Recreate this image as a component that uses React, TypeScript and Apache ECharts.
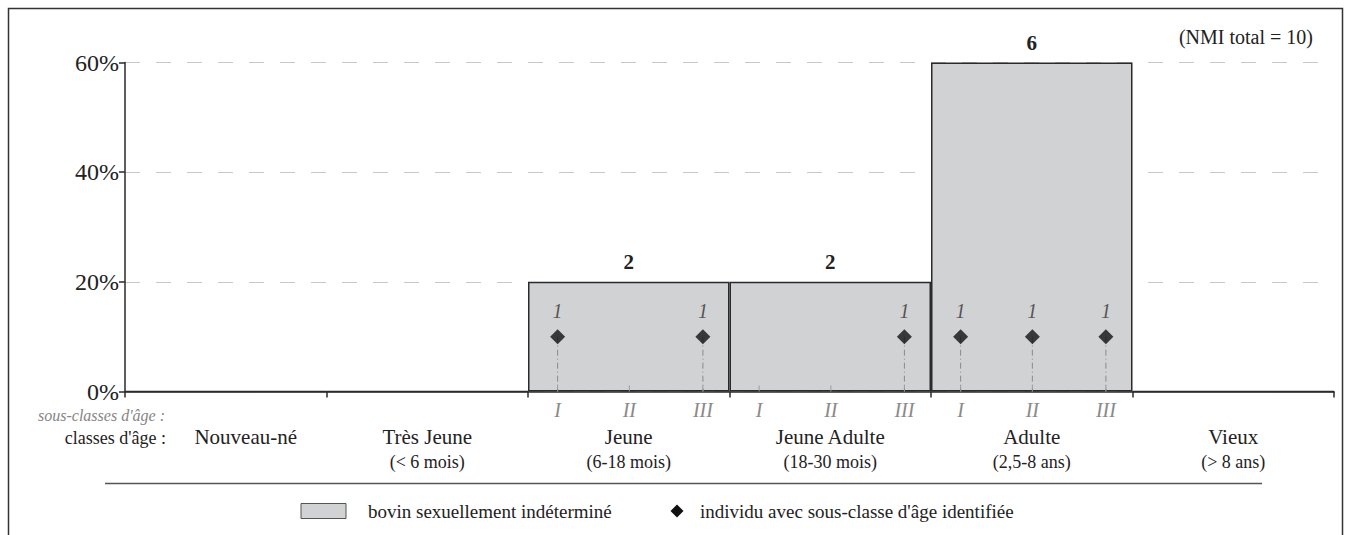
import React, { useEffect, useRef } from 'react';
import * as echarts from 'echarts';

// ---------- data ----------
const categories = ['Nouveau-né', 'Très Jeune', 'Jeune', 'Jeune Adulte', 'Adulte', 'Vieux'];
const categoryRanges = ['', '(< 6 mois)', '(6-18 mois)', '(18-30 mois)', '(2,5-8 ans)', '(> 8 ans)'];
const nmiTotal = 10;
const bovinCounts = [0, 0, 2, 2, 6, 0];
const subclassNames = ['I', 'II', 'III'];
const subclassCategories = ['Jeune', 'Jeune Adulte', 'Adulte'];
const individualCategories = ['Jeune', 'Jeune', 'Jeune Adulte', 'Adulte', 'Adulte', 'Adulte'];
const individualSubclasses = ['I', 'III', 'III', 'I', 'II', 'III'];
const individualCounts = [1, 1, 1, 1, 1, 1];
const yTicks = [0, 20, 40, 60];

// ---------- layout ----------
const SUB_POS = [0.147, 0.503, 0.868];
const FONT = 'Liberation Serif, Times New Roman, serif';
const BAR_FILL = '#d1d2d4';
const DARK = '#222';

export default function App() {
  const ref = useRef<HTMLDivElement>(null);
  useEffect(() => {
    if (!ref.current) return;
    const chart = echarts.init(ref.current, undefined, { renderer: 'svg' });

    const pct = (c: number) => (c / nmiTotal) * 100;
    const barData = bovinCounts.map((c) => ({ value: pct(c), count: c }));
    const subData = subclassCategories.flatMap((cat) =>
      subclassNames.map((_, k) => [categories.indexOf(cat) + SUB_POS[k], 0, k])
    );
    const indivData = individualCategories.map((cat, i) => [
      categories.indexOf(cat) + SUB_POS[subclassNames.indexOf(individualSubclasses[i])],
      pct(individualCounts[i]),
      individualCounts[i],
    ]);

    const option: any = {
      animation: false,
      grid: { left: 125, right: 14, top: 62.5, bottom: 143.5, containLabel: false },
      xAxis: [
        {
          type: 'category',
          data: categories,
          boundaryGap: true,
          axisLine: { show: true, lineStyle: { color: '#2a2a2a', width: 1.5 } },
          axisTick: { show: true, length: 6, alignWithLabel: false, lineStyle: { color: '#2a2a2a', width: 1.5 } },
          axisLabel: {
            interval: 0,
            margin: 33,
            formatter: (v: string, i: number) =>
              categoryRanges[i] ? `{n|${v}}\n{s|${categoryRanges[i]}}` : `{n0|${v}}`,
            rich: {
              n: { fontFamily: FONT, fontSize: 21, color: DARK, lineHeight: 25 },
              n0: { fontFamily: FONT, fontSize: 21, color: DARK, lineHeight: 25, padding: [0, 0, 0, 40] },
              s: { fontFamily: FONT, fontSize: 18, color: DARK, lineHeight: 25 },
            },
          },
          splitLine: { show: false },
        },
        { type: 'value', min: 0, max: categories.length, show: false },
      ],
      yAxis: {
        type: 'value',
        min: yTicks[0],
        max: yTicks[yTicks.length - 1],
        interval: yTicks[1] - yTicks[0],
        axisLine: { show: true, lineStyle: { color: '#2a2a2a', width: 1.5 } },
        axisTick: { show: true, length: 6, lineStyle: { color: '#2a2a2a', width: 1.5 } },
        axisLabel: { formatter: '{value}%', fontFamily: FONT, fontSize: 24, lineHeight: 20, color: DARK, margin: 6 },
        splitLine: { show: true, lineStyle: { color: '#c8c8c8', width: 1, type: [15, 16] } },
      },
      series: [
        {
          type: 'bar',
          xAxisIndex: 0,
          yAxisIndex: 0,
          data: barData,
          barWidth: '100%',
          barCategoryGap: 0,
          itemStyle: { color: BAR_FILL, borderColor: '#2a2a2a', borderWidth: 1.5 },
          label: {
            show: true,
            position: 'top',
            distance: 9,
            fontFamily: FONT,
            fontSize: 21,
            fontWeight: 'bold',
            color: DARK,
            formatter: (p: any) => (p.data.count > 0 ? String(p.data.count) : ''),
          },
          z: 2,
        },
        {
          type: 'custom',
          xAxisIndex: 1,
          yAxisIndex: 0,
          clip: false,
          data: subData,
          z: 3,
          renderItem: (params: any, api: any) => {
            const p = api.coord([api.value(0), 0]);
            return {
              type: 'group',
              children: [
                {
                  type: 'line',
                  shape: { x1: p[0], y1: p[1], x2: p[0], y2: p[1] - 6 },
                  style: { stroke: '#9a9a9a', lineWidth: 1 },
                },
                {
                  type: 'text',
                  x: p[0],
                  y: p[1] + 18,
                  style: {
                    text: subclassNames[api.value(2)],
                    fontFamily: FONT,
                    fontSize: 20,
                    fontStyle: 'italic',
                    fill: '#8a8a8a',
                    align: 'center',
                    verticalAlign: 'middle',
                  },
                },
              ],
            };
          },
        },
        {
          type: 'custom',
          xAxisIndex: 1,
          yAxisIndex: 0,
          clip: false,
          data: indivData,
          z: 4,
          renderItem: (params: any, api: any) => {
            const p1 = api.coord([api.value(0), api.value(1)]);
            const p0 = api.coord([api.value(0), 0]);
            return {
              type: 'line',
              shape: { x1: p1[0], y1: p1[1], x2: p0[0], y2: p0[1] },
              style: { stroke: '#8a8a8a', lineWidth: 1, lineDash: [6, 3, 1, 3] },
            };
          },
        },
        {
          type: 'scatter',
          xAxisIndex: 1,
          yAxisIndex: 0,
          data: indivData,
          symbol: 'diamond',
          symbolSize: 15,
          itemStyle: { color: '#111' },
          z: 5,
          label: {
            show: true,
            position: 'top',
            distance: 8,
            fontFamily: FONT,
            fontSize: 20,
            fontStyle: 'italic',
            color: '#333',
            formatter: (p: any) => String(p.value[2]),
          },
        },
      ],
      graphic: [
        {
          type: 'rect',
          shape: { x: 8.5, y: 8.5, width: 1334, height: 600 },
          style: { fill: 'none', stroke: '#333', lineWidth: 1.5 },
          silent: true,
        },
        {
          type: 'text',
          x: 1313,
          y: 37,
          style: { text: '(NMI total = 10)', fontFamily: FONT, fontSize: 20, fill: DARK, align: 'right', verticalAlign: 'middle' },
        },
        {
          type: 'text',
          x: 165,
          y: 415,
          style: { text: "sous-classes d'âge :", fontFamily: FONT, fontSize: 16, fontStyle: 'italic', fill: '#858585', align: 'right', verticalAlign: 'middle' },
        },
        {
          type: 'text',
          x: 166,
          y: 438,
          style: { text: "classes d'âge :", fontFamily: FONT, fontSize: 18, fill: DARK, align: 'right', verticalAlign: 'middle' },
        },
        {
          type: 'line',
          shape: { x1: 105, y1: 483.5, x2: 1262, y2: 483.5 },
          style: { stroke: '#555', lineWidth: 1.5 },
        },
        {
          type: 'rect',
          shape: { x: 301, y: 503.5, width: 45, height: 15 },
          style: { fill: BAR_FILL, stroke: '#555', lineWidth: 1 },
        },
        {
          type: 'text',
          x: 368,
          y: 511,
          style: { text: 'bovin sexuellement indéterminé', fontFamily: FONT, fontSize: 19, fill: DARK, align: 'left', verticalAlign: 'middle' },
        },
        {
          type: 'polygon',
          shape: { points: [[677, 504.5], [683.5, 511], [677, 517.5], [670.5, 511]] },
          style: { fill: '#111' },
        },
        {
          type: 'text',
          x: 700,
          y: 511,
          style: { text: "individu avec sous-classe d'âge identifiée", fontFamily: FONT, fontSize: 19, fill: DARK, align: 'left', verticalAlign: 'middle' },
        },
      ],
    };
    chart.setOption(option);
    return () => chart.dispose();
  }, []);
  return (
    <div
      ref={ref}
      style={{ position: 'fixed', left: 0, top: 0, width: 1348, height: 535, background: '#fff' }}
    />
  );
}
